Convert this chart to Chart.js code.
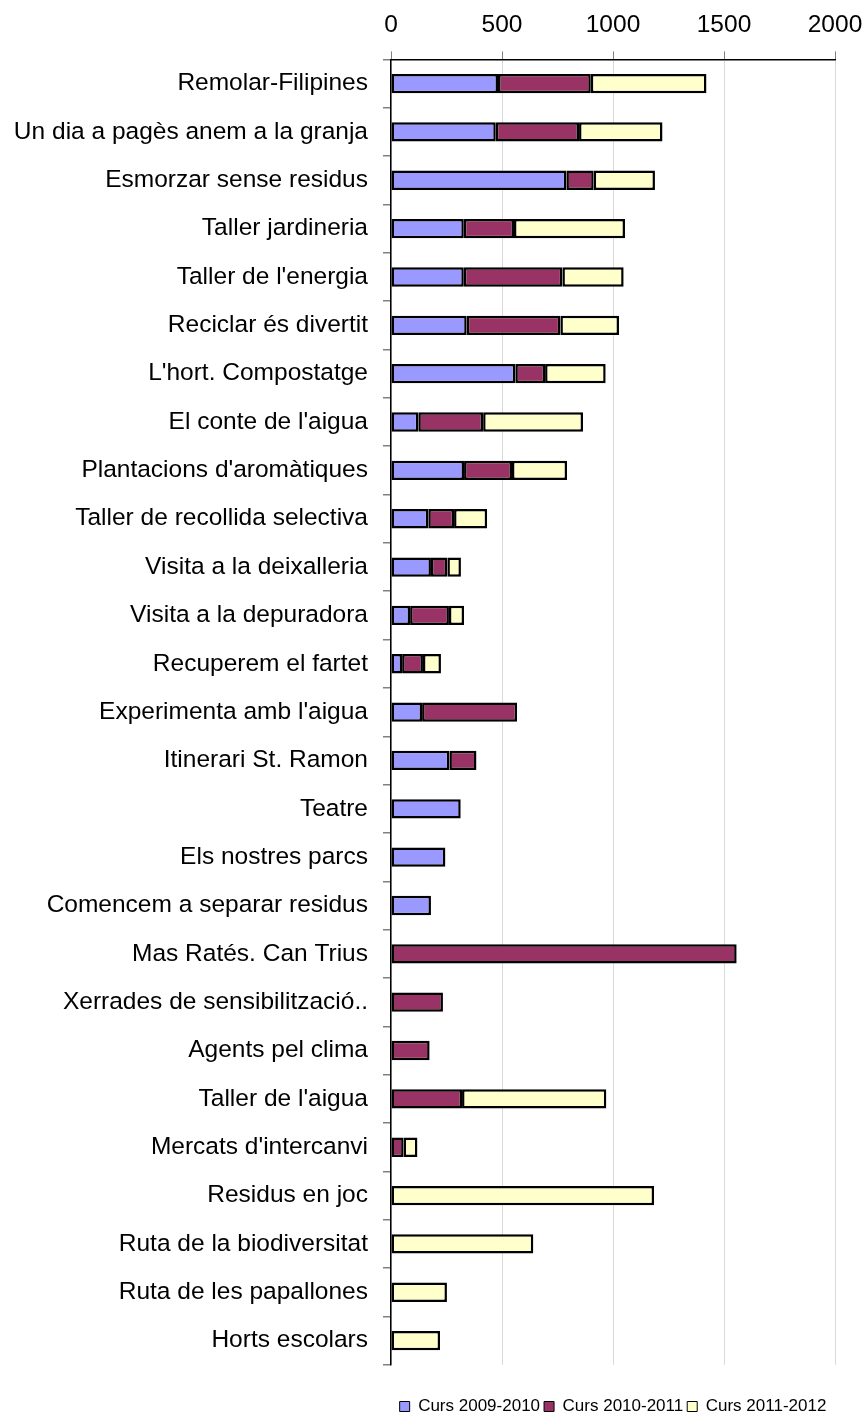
<!DOCTYPE html>
<html>
<head>
<meta charset="utf-8">
<title>Activitats per curs</title>
<script src="https://cdn.jsdelivr.net/npm/chart.js@4/dist/chart.umd.min.js"></script>
<style>
  html, body { margin: 0; padding: 0; background: #fff; }
  #wrap { width: 866px; height: 1413px; }
</style>
</head>
<body>
<div id="wrap"><canvas id="chart"></canvas></div>
<script>
// activity names, top to bottom
const categories = [
  "Remolar-Filipines",
  "Un dia a pagès anem a la granja",
  "Esmorzar sense residus",
  "Taller jardineria",
  "Taller de l'energia",
  "Reciclar és divertit",
  "L'hort. Compostatge",
  "El conte de l'aigua",
  "Plantacions d'aromàtiques",
  "Taller de recollida selectiva",
  "Visita a la deixalleria",
  "Visita a la depuradora",
  "Recuperem el fartet",
  "Experimenta amb l'aigua",
  "Itinerari St. Ramon",
  "Teatre",
  "Els nostres parcs",
  "Comencem a separar residus",
  "Mas Ratés. Can Trius",
  "Xerrades de sensibilització..",
  "Agents pel clima",
  "Taller de l'aigua",
  "Mercats d'intercanvi",
  "Residus en joc",
  "Ruta de la biodiversitat",
  "Ruta de les papallones",
  "Horts escolars"
];

const seriesNames = ["Curs 2009-2010", "Curs 2010-2011", "Curs 2011-2012"];

// values
const curs0910 = [482, 472, 790, 328, 328, 341, 560, 123, 329, 168, 180, 86, 50, 140, 263, 314, 245, 180, 0, 0, 0, 0, 0, 0, 0, 0, 0];
const curs1011 = [418, 375, 123, 226, 444, 422, 134, 292, 216, 116, 74, 175, 94, 428, 122, 0, 0, 0, 1557, 234, 174, 320, 57, 0, 0, 0, 0];
const curs1112 = [521, 376, 276, 500, 276, 264, 273, 450, 248, 149, 61, 68, 81, 0, 0, 0, 0, 0, 0, 0, 0, 650, 62, 1185, 641, 252, 221];

const xTicks = [0, 500, 1000, 1500, 2000];

const fillColors = ["#9999FF", "#993366", "#FFFFCC"];

const fontFamily = "'Liberation Sans', Arial, sans-serif";

const allSeries = [curs0910, curs1011, curs1112];
const datasets = allSeries.map(function(vals, i) {
  return {
    label: seriesNames[i],
    // zero means no bar for that course
    data: vals.map(v => v === 0 ? null : v),
    backgroundColor: fillColors[i],
    borderColor: "#000000",
    borderWidth: 2.5,
    borderSkipped: false,
    categoryPercentage: 1.0,
    barPercentage: 0.4
  };
});

new Chart(document.getElementById("chart"), {
  type: 'bar',
  data: { labels: categories, datasets: datasets },
  options: {
    indexAxis: 'y',
    responsive: true,
    maintainAspectRatio: false,
    animation: false,
    layout: { padding: { top: 0, left: 0, right: 31, bottom: -12 } },
    scales: {
      x: {
        position: 'top',
        stacked: true,
        min: 0,
        max: 2000,
        afterBuildTicks: function(axis) {
          axis.ticks = xTicks.map(v => ({ value: v }));
        },
        // let the end labels hang over the plot edges
        afterFit: function(axis) {
          axis.paddingLeft = 0;
          axis.paddingRight = 0;
        },
        grid: {
          color: "#d9d9d9",
          lineWidth: 1,
          tickColor: "#808080",
          tickLength: 8
        },
        border: { color: "#000000", width: 1.5 },
        ticks: {
          color: "#000000",
          padding: 11,
          font: { family: fontFamily, size: 24.5 },
          callback: function(v) { return String(v); }
        }
      },
      y: {
        stacked: true,
        afterFit: function(axis) {
          axis.width = 391;
        },
        grid: {
          offset: true,
          drawOnChartArea: true,
          // only the bottom edge shows as a line, the rest are just tick marks
          color: function(ctx) {
            return ctx.index === categories.length ? "#bfbfbf" : "rgba(0,0,0,0)";
          },
          lineWidth: 1.5,
          tickColor: "#808080",
          tickLength: 8
        },
        border: { color: "#000000", width: 1.5 },
        ticks: {
          color: "#000000",
          padding: 15,
          autoSkip: false,
          font: { family: fontFamily, size: 24.5 }
        }
      }
    },
    plugins: {
      legend: {
        position: 'bottom',
        fullSize: false,
        // empty title only used as a spacer to push the legend down
        title: {
          display: true,
          text: ' ',
          font: { size: 1 },
          padding: { top: 28, bottom: 0 }
        },
        labels: {
          color: "#000000",
          boxWidth: 10,
          boxHeight: 10,
          padding: 4,
          font: { family: fontFamily, size: 17 },
          generateLabels: function(chart) {
            let items = Chart.defaults.plugins.legend.labels.generateLabels(chart);
            items.forEach(function(it) { it.lineWidth = 1; it.strokeStyle = "#000000"; });
            return items;
          }
        }
      },
      tooltip: { enabled: false }
    }
  }
});
</script>
</body>
</html>
